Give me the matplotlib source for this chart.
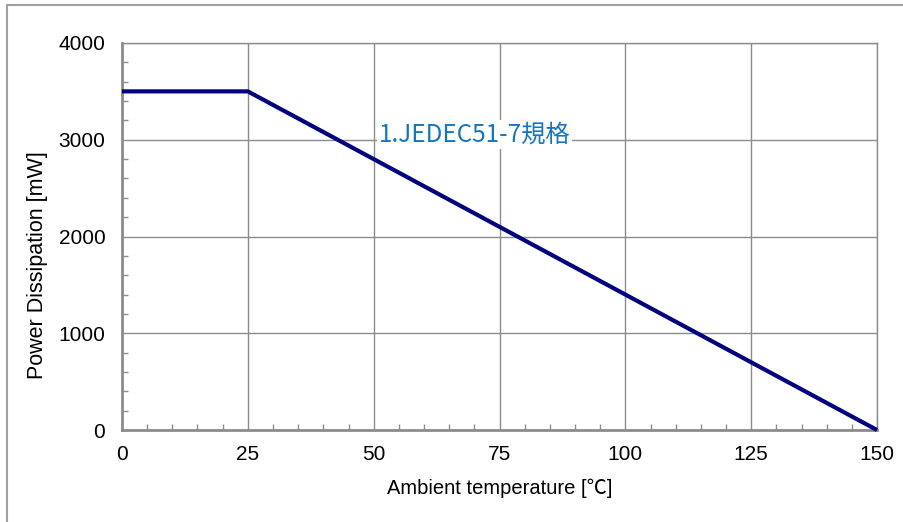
import matplotlib
matplotlib.use('Agg')
from matplotlib import pyplot as plt
from matplotlib.patches import Rectangle
from matplotlib.ticker import MultipleLocator

# Derating curve: power dissipation vs ambient temperature.
temps = [0, 25, 150]
power = [3500, 3500, 0]
x_ticks = [0, 25, 50, 75, 100, 125, 150]
y_ticks = [0, 1000, 2000, 3000, 4000]
note = "1.JEDEC51-7規格"

plt.rcParams['font.family'] = ['Liberation Sans', 'DejaVu Sans']
grey = '#8c8c8c'

fig = plt.figure(figsize=(9.04, 5.22), dpi=100)
# Outer chart frame (left and top edges visible).
fig.patches.append(Rectangle((7 / 904, -0.1), 1.2, 1 - 5 / 522 + 0.1,
                             transform=fig.transFigure, fill=False,
                             edgecolor='#a0a0a0', linewidth=1.5))
ax = fig.add_axes([122 / 904, 1 - 430 / 522, 755 / 904, 387 / 522])

ax.plot(temps, power, color='#000080', linewidth=3, solid_capstyle='butt',
        zorder=3, clip_on=False)

ax.set_xlim(0, 150)
ax.set_ylim(0, 4000)
ax.set_xticks(x_ticks)
ax.set_yticks(y_ticks)
ax.xaxis.set_minor_locator(MultipleLocator(5))
ax.yaxis.set_minor_locator(MultipleLocator(200))
ax.grid(True, which='major', color=grey, linewidth=1)
ax.set_axisbelow(True)
for s in ax.spines.values():
    s.set_color(grey)
    s.set_linewidth(1)
ax.spines['bottom'].set_linewidth(2)
ax.spines['left'].set_linewidth(2)
ax.tick_params(axis='both', which='major', length=0, labelsize=15, pad=11)
ax.tick_params(axis='both', which='minor', direction='in', length=4,
               color=grey, width=1)
ax.tick_params(axis='y', which='major', pad=12)

ax.set_xlabel("Ambient temperature [℃]", fontsize=14.5, labelpad=10,
              family=['Liberation Sans', 'Noto Sans CJK JP', 'DejaVu Sans'])
ax.set_ylabel("Power Dissipation [mW]", fontsize=15.5)
ax.yaxis.set_label_coords(-0.098, 0.426)

ax.text(51, 3050, note, color='#1176c6', fontsize=17.5, va='center', ha='left',
        family=['Noto Sans CJK JP', 'DejaVu Sans'],
        bbox=dict(facecolor='white', edgecolor='none', pad=1), zorder=2)

fig.savefig('out.png', dpi=100)
